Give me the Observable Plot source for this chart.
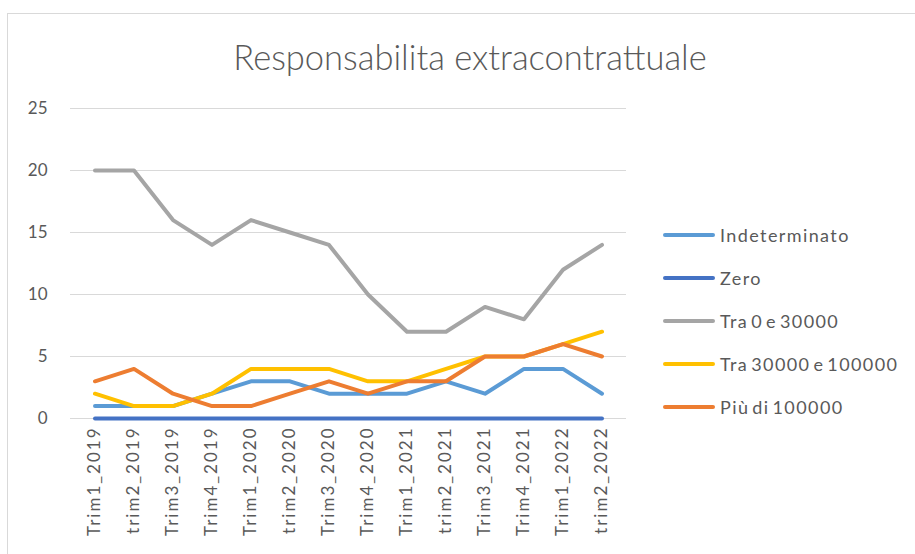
<!DOCTYPE html>
<html>
<head>
<meta charset="utf-8">
<script src="https://cdn.jsdelivr.net/npm/d3@7"></script>
<script src="https://cdn.jsdelivr.net/npm/@observablehq/plot@0.6"></script>
<style>
  body { margin: 0; background: #fff; }
  #wrap { position: relative; width: 915px; height: 554px; overflow: hidden; font-family: Lato, "Open Sans", sans-serif; }
  #frame { position: absolute; left: 7px; top: 13px; width: 1000px; height: 1000px; border: 1px solid #d9d9d9; box-sizing: border-box; }
  #title { position: absolute; left: 0; width: 940px; top: 36px; text-align: center; font-size: 34.5px; font-weight: 300; color: #595959; }
  #chart { position: absolute; left: 0; top: 0; }
  #legend { position: absolute; left: 663px; top: 213px; }
  .item { display: flex; align-items: center; height: 43px; font-size: 18px; letter-spacing: 1.4px; word-spacing: -3px; color: #595959; }
  .item svg { margin-right: 5px; }
  #chart svg g[aria-label="x-axis tick label"] text { letter-spacing: 2px; }
</style>
</head>
<body>
<div id="wrap">
  <div id="frame"></div>
  <div id="chart"></div>
  <div id="title">Responsabilita extracontrattuale</div>
  <div id="legend"></div>
</div>
<script>
const periods = ["Trim1_2019","trim2_2019","Trim3_2019","Trim4_2019","Trim1_2020","trim2_2020","Trim3_2020","Trim4_2020","Trim1_2021","trim2_2021","Trim3_2021","Trim4_2021","Trim1_2022","trim2_2022"];
const seriesNames = ["Indeterminato","Zero","Tra 0 e 30000","Tra 30000 e 100000","Più di 100000"];
const seriesColors = ["#5B9BD5","#4472C4","#A5A5A5","#FFC000","#ED7D31"];
const indeterminato = [1,1,1,2,3,3,2,2,2,3,2,4,4,2];
const zero = [0,0,0,0,0,0,0,0,0,0,0,0,0,0];
const tra0e30000 = [20,20,16,14,16,15,14,10,7,7,9,8,12,14];
const tra30000e100000 = [2,1,1,2,4,4,4,3,3,4,5,5,6,7];
const piuDi100000 = [3,4,2,1,1,2,3,2,3,3,5,5,6,5];
const yTicks = [0,5,10,15,20,25];

const allValues = [indeterminato, zero, tra0e30000, tra30000e100000, piuDi100000];
const data = [];
seriesNames.forEach((s, i) => {
  periods.forEach((p, j) => data.push({series: s, period: p, value: allValues[i][j]}));
});

const plot = Plot.plot({
  width: 915,
  height: 554,
  marginLeft: 70,
  marginRight: 289,
  marginTop: 108,
  marginBottom: 136,
  style: {fontFamily: "Lato, 'Open Sans', sans-serif", fontSize: "16px", color: "#595959", background: "transparent", overflow: "visible"},
  x: {type: "band", domain: periods, padding: 0, label: null},
  y: {domain: [0, 25], label: null},
  color: {domain: seriesNames, range: seriesColors},
  marks: [
    Plot.gridY(yTicks, {stroke: "#d9d9d9", strokeOpacity: 1, strokeWidth: 1}),
    Plot.axisY(yTicks, {tickSize: 0, tickPadding: 23, fill: "#595959", fontSize: 17}),
    Plot.axisX({tickSize: 0, tickRotate: -90, tickPadding: 8, fill: "#595959", fontSize: 17}),
    ...seriesNames.map(s => Plot.line(data.filter(d => d.series === s), {
      x: "period", y: "value", stroke: "series", strokeWidth: 4, strokeLinecap: "round", strokeLinejoin: "round"
    }))
  ]
});
document.getElementById("chart").appendChild(plot);

const legend = document.getElementById("legend");
seriesNames.forEach((s, i) => {
  const item = document.createElement("div");
  item.className = "item";
  item.innerHTML = `<svg width="52" height="6"><line x1="2" y1="3" x2="50" y2="3" stroke="${seriesColors[i]}" stroke-width="4" stroke-linecap="round"/></svg><span>${s}</span>`;
  legend.appendChild(item);
});
</script>
</body>
</html>
